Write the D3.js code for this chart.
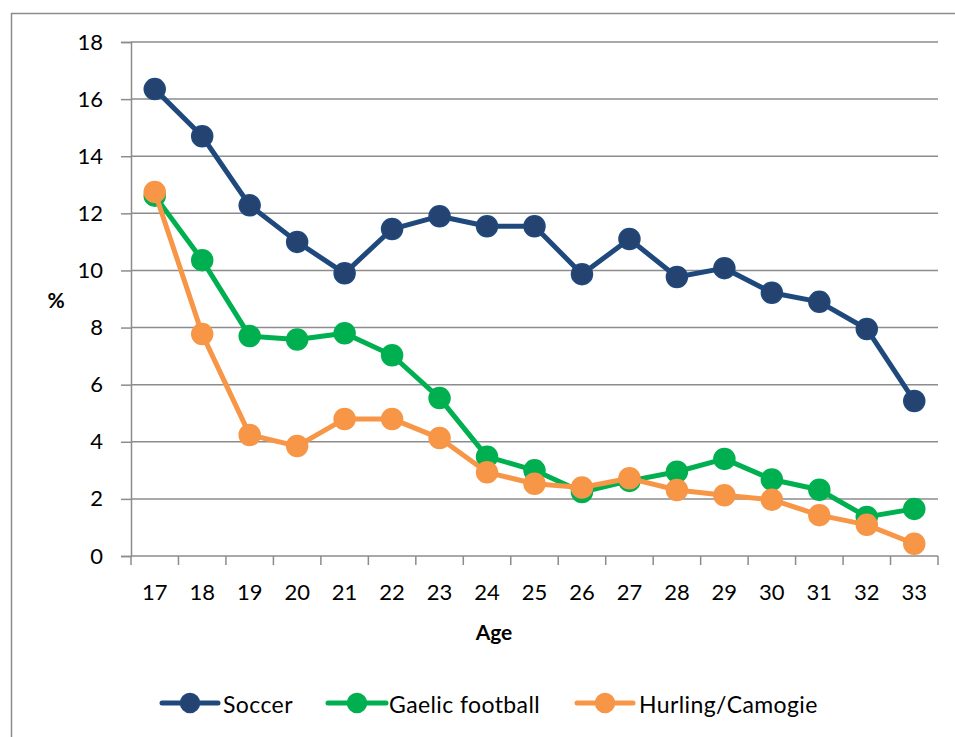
<!DOCTYPE html>
<html>
<head>
<meta charset="utf-8">
<script src="https://cdn.jsdelivr.net/npm/d3@7"></script>
<style>
  html, body { margin: 0; padding: 0; background: #fff; }
  svg { display: block; font-family: Lato, "Open Sans", sans-serif; }
</style>
</head>
<body>
<svg id="chart" width="955" height="737"></svg>
<script>
// Age categories along the x axis
const ages = ["17","18","19","20","21","22","23","24","25","26","27","28","29","30","31","32","33"];

// Percentage values per sport
const soccer = [16.35, 14.7, 12.28, 11.0, 9.9, 11.45, 11.9, 11.55, 11.55, 9.87, 11.1, 9.77, 10.08, 9.22, 8.9, 7.95, 5.43];
const gaelic = [12.62, 10.36, 7.7, 7.58, 7.8, 7.03, 5.53, 3.48, 3.0, 2.24, 2.63, 2.95, 3.4, 2.68, 2.32, 1.37, 1.65];
const hurling = [12.75, 7.77, 4.24, 3.85, 4.8, 4.8, 4.13, 2.93, 2.53, 2.4, 2.72, 2.31, 2.13, 1.97, 1.43, 1.09, 0.43];

const seriesNames = ["Soccer", "Gaelic football", "Hurling/Camogie"];
const yTicks = [0, 2, 4, 6, 8, 10, 12, 14, 16, 18];

const svg = d3.select("#chart");

const colors = {
  "Soccer": { line: "#1F497D", fill: "#254370" },
  "Gaelic football": { line: "#00B050", fill: "#00B050" },
  "Hurling/Camogie": { line: "#F79646", fill: "#F79646" }
};
const values = { "Soccer": soccer, "Gaelic football": gaelic, "Hurling/Camogie": hurling };

// Outer chart frame
svg.append("rect")
  .attr("x", 11.5).attr("y", 13.5)
  .attr("width", 1000).attr("height", 1000)
  .attr("fill", "none").attr("stroke", "#8c8c8c").attr("stroke-width", 1.5);

const plotLeft = 131, plotRight = 938, plotTop = 42, plotBottom = 556;

const x = d3.scaleBand().domain(ages).range([plotLeft, plotRight]);
const y = d3.scaleLinear().domain([0, 18]).range([plotBottom, plotTop]);

// Horizontal gridlines
svg.append("g")
  .selectAll("line")
  .data(yTicks.filter(d => d > 0))
  .join("line")
  .attr("x1", plotLeft).attr("x2", plotRight)
  .attr("y1", d => y(d)).attr("y2", d => y(d))
  .attr("stroke", "#8c8c8c").attr("stroke-width", 1.5);

// Y axis
const yAxis = d3.axisLeft(y).tickValues(yTicks).tickSize(10).tickPadding(18);
const gy = svg.append("g").attr("transform", `translate(${plotLeft},0)`).call(yAxis);
gy.select(".domain").attr("stroke", "#8c8c8c").attr("stroke-width", 1.5);
gy.selectAll(".tick line").attr("stroke", "#8c8c8c").attr("stroke-width", 1.5);
gy.selectAll(".tick text").attr("font-size", 22).attr("fill", "#000")
  .attr("font-family", "Lato, sans-serif");

// X axis with ticks at category boundaries
const gx = svg.append("g").attr("transform", `translate(0,${plotBottom})`);
gx.append("line").attr("x1", plotLeft).attr("x2", plotRight).attr("y1", 0).attr("y2", 0)
  .attr("stroke", "#8c8c8c").attr("stroke-width", 1.5);
const boundaries = ages.map(a => x(a)).concat([x(ages[ages.length - 1]) + x.bandwidth()]);
gx.selectAll("line.tk").data(boundaries).join("line").attr("class", "tk")
  .attr("x1", d => d).attr("x2", d => d).attr("y1", 0).attr("y2", 9)
  .attr("stroke", "#8c8c8c").attr("stroke-width", 1.5);
gx.selectAll("text").data(ages).join("text")
  .attr("x", d => x(d) + x.bandwidth() / 2).attr("y", 44)
  .attr("text-anchor", "middle").attr("font-size", 22).attr("fill", "#000")
  .text(d => d);

// Axis titles
svg.append("text").attr("x", 56).attr("y", 308).attr("text-anchor", "middle")
  .attr("font-size", 21).attr("font-weight", "bold").text("%");
svg.append("text").attr("x", 494).attr("y", 640).attr("text-anchor", "middle")
  .attr("font-size", 21).attr("font-weight", "bold").text("Age");

// Series lines and markers
const line = d3.line()
  .x((d, i) => x(ages[i]) + x.bandwidth() / 2)
  .y(d => y(d));

seriesNames.forEach(name => {
  const g = svg.append("g");
  g.append("path").datum(values[name])
    .attr("d", line).attr("fill", "none")
    .attr("stroke", colors[name].line).attr("stroke-width", 5)
    .attr("stroke-linejoin", "round");
  g.selectAll("circle").data(values[name]).join("circle")
    .attr("cx", (d, i) => x(ages[i]) + x.bandwidth() / 2)
    .attr("cy", d => y(d))
    .attr("r", 10.5)
    .attr("fill", colors[name].fill)
    .attr("stroke", colors[name].line).attr("stroke-width", 1.5);
});

// Legend
const legendItems = [
  { name: "Soccer", x0: 162, x1: 218, tx: 223 },
  { name: "Gaelic football", x0: 328, x1: 386, tx: 389 },
  { name: "Hurling/Camogie", x0: 577, x1: 633, tx: 639 }
];
const ly = 703;
const lg = svg.append("g");
legendItems.forEach(it => {
  lg.append("line").attr("x1", it.x0).attr("x2", it.x1).attr("y1", ly).attr("y2", ly)
    .attr("stroke", colors[it.name].line).attr("stroke-width", 5).attr("stroke-linecap", "round");
  lg.append("circle").attr("cx", (it.x0 + it.x1) / 2).attr("cy", ly).attr("r", 9.5)
    .attr("fill", colors[it.name].fill).attr("stroke", colors[it.name].line).attr("stroke-width", 1.5);
  lg.append("text").attr("x", it.tx).attr("y", ly + 10).attr("font-size", 23)
    .attr("letter-spacing", 0.4)
    .attr("fill", "#000").text(it.name);
});
</script>
</body>
</html>
